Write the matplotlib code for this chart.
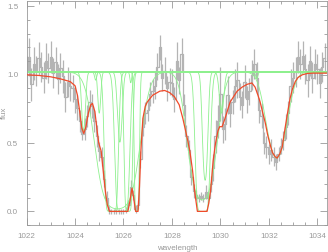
import numpy as np
import matplotlib
matplotlib.use("Agg")
import matplotlib.pyplot as plt
from matplotlib.ticker import MultipleLocator

# observed spectrum, 0.1 A bins starting at 1022.0
wave0 = 1022.0
dwave = 0.1
flux = [1.02, 1.13, 0.93, 1.08, 1.03, 1.12, 1.06, 0.98, 1.10, 1.05,
        1.13, 1.01, 1.09, 0.97, 1.05, 0.99, 0.84, 0.95, 0.92, 0.90,
        0.82, 0.76, 0.66, 0.57, 0.60, 0.70, 0.80, 0.77, 0.66, 0.55,
        0.44, 0.40, 0.24, 0.10, 0.01, 0.00, 0.00, 0.00, 0.00, 0.00,
        0.00, 0.01, 0.05, 0.18, 0.12, 0.02, 0.05, 0.38, 0.62, 0.72,
        0.74, 0.86, 0.88, 0.92, 1.06, 1.20, 0.98, 1.03, 0.90, 0.95,
        0.94, 0.82, 1.10, 0.96, 1.15, 0.78, 0.55, 0.45, 0.25, 0.15,
        0.12, 0.10, 0.11, 0.10, 0.14, 0.10, 0.20, 0.32, 0.55, 0.66,
        0.86, 0.60, 0.64, 0.85, 0.72, 0.80, 0.92, 0.96, 0.84, 0.78,
        0.95, 0.82, 0.88, 1.00, 1.08, 0.98, 0.74, 0.70, 0.50, 0.47,
        0.42, 0.45, 0.40, 0.36, 0.42, 0.48, 0.52, 0.62, 0.72, 0.92,
        0.98, 1.02, 1.13, 1.08, 1.14, 1.04, 0.96, 1.10, 0.98, 1.08,
        1.04, 0.94, 1.06, 1.12]
err = [0.12, 0.14, 0.12, 0.12, 0.11, 0.12, 0.11, 0.11, 0.13, 0.11,
       0.12, 0.11, 0.11, 0.11, 0.11, 0.12, 0.11, 0.11, 0.11, 0.10,
       0.10, 0.09, 0.08, 0.05, 0.08, 0.08, 0.09, 0.09, 0.08, 0.08,
       0.07, 0.07, 0.06, 0.05, 0.03, 0.02, 0.02, 0.02, 0.02, 0.02,
       0.02, 0.02, 0.03, 0.05, 0.04, 0.03, 0.03, 0.06, 0.07, 0.08,
       0.08, 0.09, 0.09, 0.10, 0.10, 0.09, 0.10, 0.10, 0.09, 0.10,
       0.10, 0.09, 0.14, 0.10, 0.12, 0.08, 0.08, 0.07, 0.06, 0.05,
       0.04, 0.03, 0.03, 0.03, 0.05, 0.04, 0.06, 0.10, 0.12, 0.12,
       0.20, 0.10, 0.12, 0.14, 0.10, 0.09, 0.12, 0.13, 0.10, 0.10,
       0.12, 0.10, 0.10, 0.11, 0.11, 0.11, 0.09, 0.09, 0.08, 0.08,
       0.07, 0.08, 0.07, 0.06, 0.05, 0.06, 0.07, 0.09, 0.09, 0.12,
       0.11, 0.11, 0.12, 0.11, 0.11, 0.11, 0.12, 0.11, 0.11, 0.11,
       0.11, 0.11, 0.11, 0.11]

# total fitted model (red)
model_wave = [1022.0, 1022.5, 1023.0, 1023.4, 1023.8, 1024.0, 1024.1, 1024.2,
              1024.28, 1024.36, 1024.45, 1024.55, 1024.65, 1024.72, 1024.82,
              1024.92, 1024.98, 1025.03, 1025.08, 1025.15, 1025.25, 1025.33,
              1025.42, 1026.18, 1026.27, 1026.35, 1026.42, 1026.50, 1026.60,
              1026.66, 1026.72, 1026.80, 1026.90, 1026.98, 1027.2, 1027.5,
              1027.7, 1027.9, 1028.1, 1028.3, 1028.45, 1028.55, 1028.65,
              1028.74, 1028.85, 1028.95, 1029.05, 1029.45, 1029.52, 1029.60,
              1029.70, 1029.80, 1029.90, 1029.97, 1030.07, 1030.19, 1030.40,
              1030.69, 1030.90, 1031.10, 1031.30, 1031.43, 1031.55, 1031.64,
              1031.75, 1031.85, 1031.95, 1032.05, 1032.15, 1032.26, 1032.34,
              1032.45, 1032.55, 1032.67, 1032.78, 1032.88, 1032.98, 1033.09,
              1033.2, 1033.38, 1033.6, 1033.83, 1034.1, 1034.4]
model_flux = [1.00, 0.995, 0.985, 0.97, 0.95, 0.92, 0.85, 0.72,
              0.61, 0.57, 0.62, 0.72, 0.78, 0.79, 0.73,
              0.58, 0.50, 0.47, 0.44, 0.32, 0.15, 0.05,
              0.0, 0.0, 0.08, 0.17, 0.10, 0.0, 0.0,
              0.18, 0.45, 0.68, 0.77, 0.80, 0.85, 0.88,
              0.885, 0.87, 0.84, 0.78, 0.68, 0.60, 0.52,
              0.44, 0.30, 0.13, 0.0, 0.0, 0.06, 0.16,
              0.37, 0.50, 0.59, 0.62, 0.62, 0.68, 0.80,
              0.88, 0.91, 0.93, 0.94, 0.91, 0.85, 0.80,
              0.72, 0.65, 0.56, 0.49, 0.43, 0.40, 0.39,
              0.42, 0.47, 0.61, 0.73, 0.83, 0.90, 0.95,
              0.98, 1.00, 1.01, 1.012, 1.012, 1.012]

# individual absorption components (green): centre, optical depth, width
comp_center = [1024.35, 1025.00, 1025.50, 1025.85, 1025.95, 1026.20, 1026.55,
               1025.75, 1026.30, 1029.25, 1029.27, 1029.37, 1030.05, 1031.50,
               1032.32, 1024.85]
comp_tau = [0.55, 0.35, 12.0, 0.70, 10.0, 8.0, 6.0,
            4.0, 0.08, 2.5, 10.0, 1.5, 0.35, 0.05,
            0.96, 0.06]
comp_width = [0.10, 0.08, 0.18, 0.12, 0.20, 0.12, 0.08,
              0.72, 0.05, 0.55, 0.20, 0.12, 0.12, 0.06,
              0.50, 0.06]
continuum = 1.02

fig = plt.figure(figsize=(3.28, 2.52), dpi=100)
ax = fig.add_axes([0.081, 0.107, 0.916, 0.889])

grey = "#999999"
wave = wave0 + dwave * np.arange(len(flux))
flux = np.array(flux)
err = np.array(err)

ax.vlines(wave, flux - err, flux + err, color="#b4b4b4", lw=0.9, zorder=1)
ax.step(wave, flux, where="mid", color="#b4b4b4", lw=0.9, zorder=1)

xx = np.linspace(1022.0, 1034.4, 1500)
for c, t, w in zip(comp_center, comp_tau, comp_width):
    ax.plot(xx, continuum * np.exp(-t * np.exp(-((xx - c) / w) ** 2)),
            color="#8ef08e", lw=0.6, zorder=2)

ax.plot(model_wave, model_flux, color="#f04a2a", lw=0.9, zorder=3)

ax.set_xlim(1022.0, 1034.4)
ax.set_ylim(-0.1, 1.54)
ax.xaxis.set_major_locator(MultipleLocator(2))
ax.xaxis.set_minor_locator(MultipleLocator(0.5))
ax.yaxis.set_major_locator(MultipleLocator(0.5))
ax.yaxis.set_minor_locator(MultipleLocator(0.1))
ax.tick_params(which="both", direction="in", top=True, right=True,
               colors=grey, labelcolor=grey, labelsize=5.8, width=0.6)
ax.tick_params(which="major", length=5, pad=6)
ax.tick_params(which="minor", length=2.5)
ax.yaxis.set_major_formatter(plt.FormatStrFormatter("%.1f"))
for s in ax.spines.values():
    s.set_color(grey)
    s.set_linewidth(0.6)
for lab in ax.get_xticklabels() + ax.get_yticklabels():
    lab.set_family("Liberation Sans")

ax.set_xlabel("wavelength", fontsize=5.8, color=grey, family="Liberation Sans", labelpad=3)
ax.set_ylabel("flux", fontsize=5.8, color=grey, family="Liberation Sans")
ax.yaxis.set_label_coords(-0.062, 0.5)

fig.savefig("out.png", dpi=100)
